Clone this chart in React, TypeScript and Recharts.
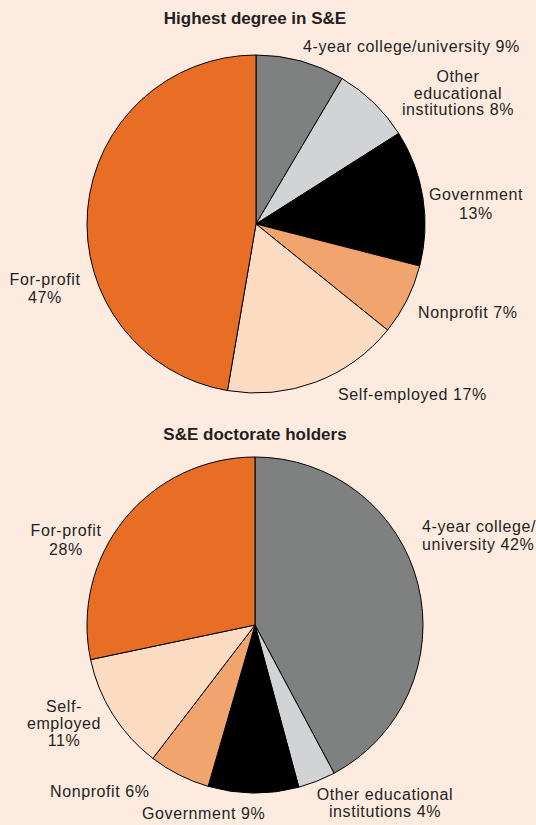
import React from "react";
import { PieChart, Pie, Cell } from "recharts";

// shares of employed S&E workers by sector, clockwise from 12 o'clock
const sectors = [
  "4-year college/university",
  "Other educational institutions",
  "Government",
  "Nonprofit",
  "Self-employed",
  "For-profit",
];
const highestDegree = [8.5, 7.5, 13, 6.8, 16.9, 47.3];
const doctorateHolders = [42.2, 3.6, 8.7, 5.9, 11.3, 28.3];

const topLabels = [
  ["4-year college/university 9%"],
  ["Other", "educational", "institutions 8%"],
  ["Government", "13%"],
  ["Nonprofit 7%"],
  ["Self-employed 17%"],
  ["For-profit", "47%"],
];
const bottomLabels = [
  ["4-year college/", "university 42%"],
  ["Other educational", "institutions 4%"],
  ["Government 9%"],
  ["Nonprofit 6%"],
  ["Self-", "employed", "11%"],
  ["For-profit", "28%"],
];

const COLORS = ["#7f8080", "#d2d3d5", "#000000", "#f2a46f", "#fbdcc3", "#e86d25"];
const BG = "#fdebe0";
const FONT = "'Liberation Sans', Arial, Helvetica, sans-serif";

// label anchor relative to pie centre: dx, dy (first baseline), text-anchor, line height
type Place = { dx: number; dy: number; anchor: "start" | "middle"; lh: number };
const topPlace: Place[] = [
  { dx: 47, dy: -172, anchor: "start", lh: 17 },
  { dx: 202, dy: -142, anchor: "middle", lh: 16.5 },
  { dx: 220, dy: -24, anchor: "middle", lh: 19 },
  { dx: 162, dy: 94, anchor: "start", lh: 17 },
  { dx: 82, dy: 176, anchor: "start", lh: 17 },
  { dx: -211, dy: 61, anchor: "middle", lh: 18 },
];
const bottomPlace: Place[] = [
  { dx: 167, dy: -93, anchor: "start", lh: 18 },
  { dx: 130, dy: 175, anchor: "middle", lh: 17 },
  { dx: -113, dy: 194, anchor: "start", lh: 17 },
  { dx: -205, dy: 172, anchor: "start", lh: 17 },
  { dx: -191, dy: 87, anchor: "middle", lh: 17 },
  { dx: -189, dy: -89, anchor: "middle", lh: 19 },
];

const topData = sectors.map((name, i) => ({ name, value: highestDegree[i] }));
const bottomData = sectors.map((name, i) => ({ name, value: doctorateHolders[i] }));

function makeLabel(lines: string[][], place: Place[]) {
  return (props: any) => {
    const { cx, cy, index } = props;
    const p = place[index];
    return (
      <text
        key={`lbl-${index}`}
        x={cx + p.dx}
        y={cy + p.dy}
        textAnchor={p.anchor}
        fill="#231f20"
        fontSize={16}
        letterSpacing={0.6}
        fontFamily={FONT}
      >
        {lines[index].map((t, j) => (
          <tspan key={j} x={cx + p.dx} dy={j === 0 ? 0 : p.lh}>
            {t}
          </tspan>
        ))}
      </text>
    );
  };
}

if (typeof document !== "undefined") document.body.style.margin = "0";

const titleStyle: React.CSSProperties = {
  position: "absolute",
  left: 0,
  width: 510,
  textAlign: "center",
  fontFamily: FONT,
  fontWeight: "bold",
  fontSize: 17,
  lineHeight: "20px",
  color: "#231f20",
};

export default function App() {
  return (
    <div style={{ position: "relative", width: 536, height: 825, background: BG, overflow: "hidden" }}>
      <div style={{ ...titleStyle, top: 9 }}>Highest degree in S&amp;E</div>
      <div style={{ ...titleStyle, top: 425 }}>S&amp;E doctorate holders</div>
      <PieChart width={536} height={825} style={{ position: "absolute", left: 0, top: 0 }}>
        <Pie
          data={topData}
          dataKey="value"
          cx={251}
          cy={219}
          outerRadius={169}
          startAngle={90}
          endAngle={-270}
          stroke="#000"
          strokeWidth={1}
          label={makeLabel(topLabels, topPlace)}
          labelLine={false}
          isAnimationActive={false}
        >
          {topData.map((d, i) => (
            <Cell key={d.name} fill={COLORS[i]} />
          ))}
        </Pie>
        <Pie
          data={bottomData}
          dataKey="value"
          cx={250}
          cy={620}
          outerRadius={168}
          startAngle={90}
          endAngle={-270}
          stroke="#000"
          strokeWidth={1}
          label={makeLabel(bottomLabels, bottomPlace)}
          labelLine={false}
          isAnimationActive={false}
        >
          {bottomData.map((d, i) => (
            <Cell key={d.name} fill={COLORS[i]} />
          ))}
        </Pie>
      </PieChart>
    </div>
  );
}
